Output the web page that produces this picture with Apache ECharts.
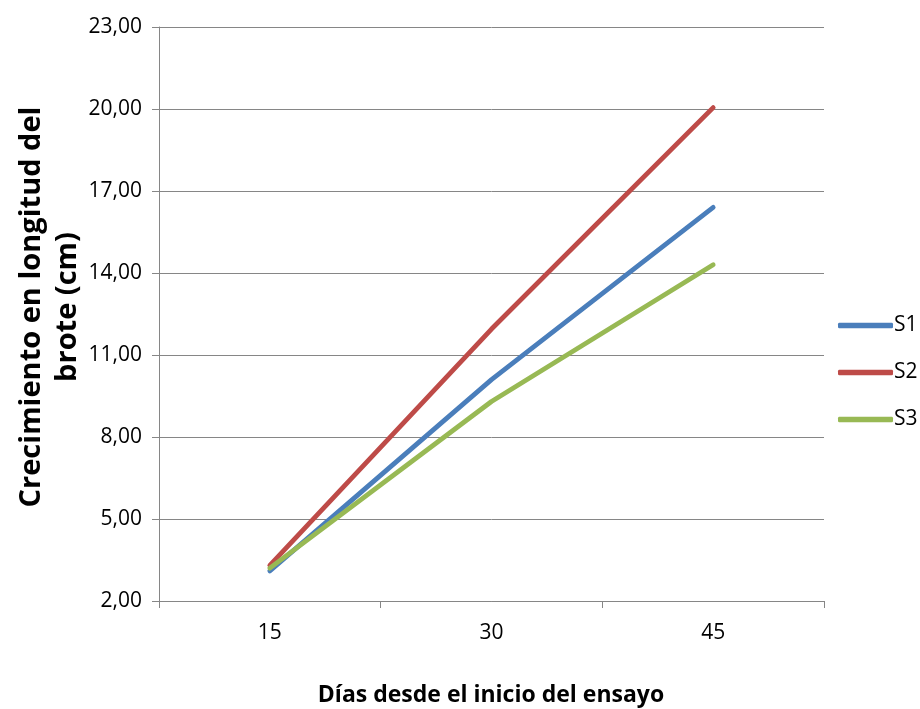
<!DOCTYPE html>
<html><head><meta charset="utf-8">
<script src="https://cdn.jsdelivr.net/npm/echarts@6/dist/echarts.min.js"></script>
<style>html,body{margin:0;padding:0;background:#fff}#c{width:920px;height:709px}</style>
</head><body><div id="c"></div>
<script>
const categories = ['15', '30', '45'];
const s1 = [3.1, 10.1, 16.4];
const s2 = [3.3, 11.95, 20.05];
const s3 = [3.2, 9.3, 14.3];
const seriesNames = ['S1', 'S2', 'S3'];
const yTitle = 'Crecimiento en longitud del\nbrote (cm)';
const xTitle = 'Días desde el inicio del ensayo';

const font = '"Open Sans", "Noto Sans", sans-serif';
const colors = ['#4A7EBB', '#BE4B48', '#98B954'];
const chart = echarts.init(document.getElementById('c'));
const mk = (name, data, i) => ({
  name, type: 'line', data, symbol: 'none', smooth: false,
  lineStyle: { width: 4.8, color: colors[i], cap: 'round', join: 'round' },
  itemStyle: { color: colors[i] }
});
chart.setOption({
  animation: false,
  backgroundColor: '#fff',
  grid: { left: 159, right: 96, top: 27, bottom: 108 },
  xAxis: {
    type: 'category', data: categories, boundaryGap: true,
    axisLine: { lineStyle: { color: '#868686', width: 1 } },
    axisTick: { show: true, length: 7, inside: false, lineStyle: { color: '#868686' } },
    axisLabel: { color: '#000', fontSize: 21, fontFamily: font, margin: 22 }
  },
  yAxis: {
    type: 'value', min: 2, max: 23, interval: 3,
    axisLine: { show: true, lineStyle: { color: '#868686', width: 1 } },
    axisTick: { show: true, length: 7, lineStyle: { color: '#868686' } },
    splitLine: { lineStyle: { color: '#868686', width: 1 } },
    axisLabel: { color: '#000', fontSize: 21, fontFamily: font, margin: 17,
      formatter: v => v.toFixed(2).replace('.', ',') }
  },
  legend: {
    orient: 'vertical', left: 833, top: 310, itemGap: 26,
    itemWidth: 55, itemHeight: 5.5, icon: 'roundRect',
    textStyle: { color: '#000', fontSize: 21, fontFamily: font, padding: [0, 0, 0, -4] },
    data: seriesNames
  },
  graphic: [
    { type: 'text', x: 50, y: 307, rotation: Math.PI / 2,
      style: { text: yTitle, fontSize: 29, fontWeight: 'bold', fontFamily: font, fill: '#000',
        textAlign: 'center', textVerticalAlign: 'middle', lineHeight: 36 } },
    { type: 'text', x: 491, y: 695,
      style: { text: xTitle, fontSize: 23, fontWeight: 'bold', fontFamily: font, fill: '#000',
        textAlign: 'center', textVerticalAlign: 'middle' } }
  ],
  series: [mk(seriesNames[0], s1, 0), mk(seriesNames[1], s2, 1), mk(seriesNames[2], s3, 2)]
});
</script></body></html>
